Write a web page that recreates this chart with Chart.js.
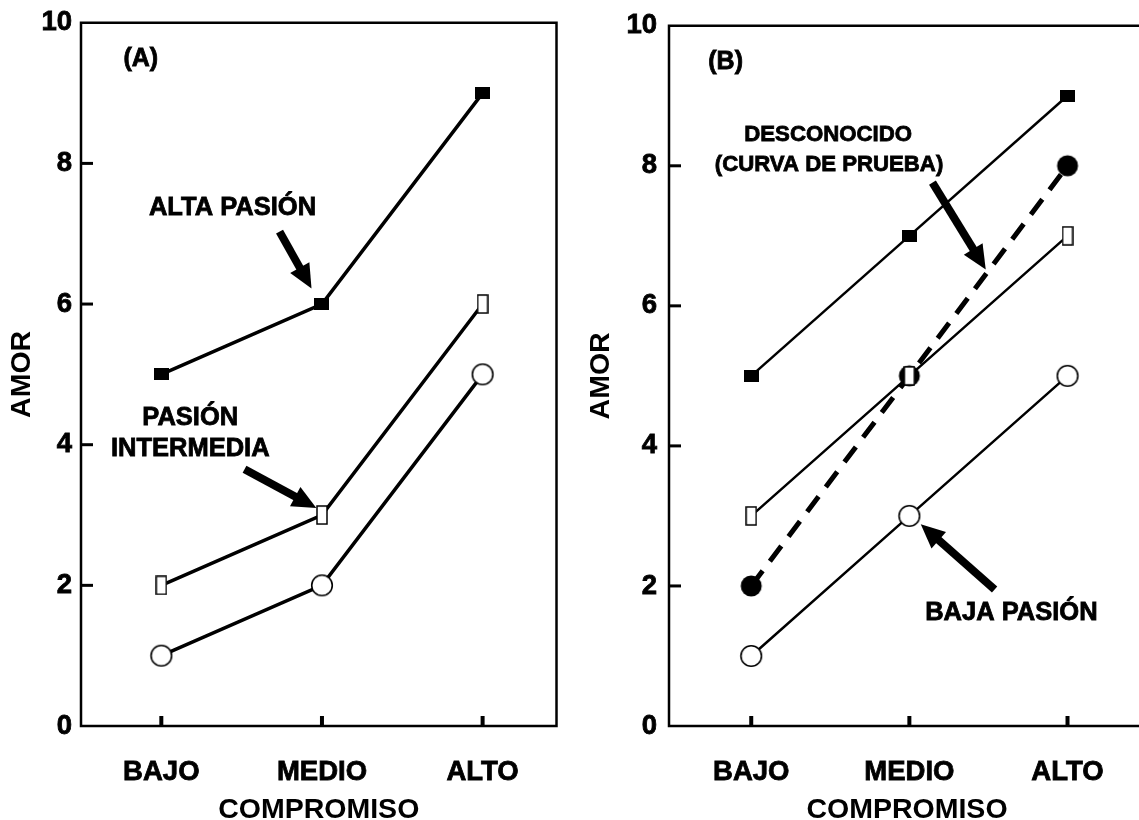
<!DOCTYPE html>
<html>
<head>
<meta charset="utf-8">
<script src="https://cdn.jsdelivr.net/npm/chart.js@4.4.1/dist/chart.umd.min.js"></script>
<style>
  html, body { margin: 0; padding: 0; background: #fff; }
  body { width: 1139px; height: 820px; overflow: hidden; position: relative; }
  canvas { position: absolute; top: 0; }
  #chart-a { left: 0; }
  #chart-b { left: 575px; }
</style>
</head>
<body>
<canvas id="chart-a" width="570" height="820"></canvas>
<canvas id="chart-b" width="585" height="820"></canvas>
<script>
// ═══════════════════════════════════════════
// DATOS
// ═══════════════════════════════════════════
const categorias = ['BAJO', 'MEDIO', 'ALTO'];
const ticksAmor = [0, 2, 4, 6, 8, 10];

// Panel (A)
const altaPasionA = [5, 6, 9];
const intermediaA = [2, 3, 6];
const bajaPasionA = [1, 2, 5];

// Panel (B)
const altaPasionB = [5, 7, 9];
const intermediaB = [3, 5, 7];
const bajaPasionB = [1, 3, 5];
const desconocidoB = [2, 5, 8];

const FUENTE = "'Liberation Sans', Arial, sans-serif";

// ═══════════════════════════════════════════
// MARCADORES (canvas pequeños como pointStyle)
// ═══════════════════════════════════════════
function marcador(tipo) {
  const c = document.createElement('canvas');
  const g = c.getContext('2d');
  if (tipo === 'cuadrado') {
    c.width = 15; c.height = 12;
    g.fillStyle = '#000';
    g.fillRect(0, 0, 15, 12);
  } else if (tipo === 'rect') {
    c.width = 12; c.height = 20;
    g.fillStyle = '#fff';
    g.fillRect(1, 1, 10, 18);
    g.strokeStyle = '#000';
    g.lineWidth = 1.5;
    g.strokeRect(1, 1, 10, 18);
  } else if (tipo === 'circulo') {
    c.width = 24; c.height = 24;
    g.beginPath();
    g.arc(12, 12, 10.3, 0, Math.PI * 2);
    g.fillStyle = '#fff';
    g.fill();
    g.strokeStyle = '#000';
    g.lineWidth = 1.6;
    g.stroke();
  } else {
    c.width = 24; c.height = 24;
    g.beginPath();
    g.arc(12, 12, 10.5, 0, Math.PI * 2);
    g.fillStyle = '#000';
    g.fill();
  }
  return c;
}

const puntos = vals => vals.map((v, i) => ({ x: i, y: v }));

function serie(vals, tipo, ancho, guiones) {
  return {
    data: puntos(vals),
    borderColor: '#000',
    borderWidth: ancho,
    borderDash: guiones || [],
    pointStyle: marcador(tipo),
    pointRadius: 10,
    tension: 0,
    fill: false,
  };
}

// ═══════════════════════════════════════════
// MARCO, TICKS INTERNOS Y ANOTACIONES
// ═══════════════════════════════════════════
function flecha(ctx, x1, y1, x2, y2) {
  const ang = Math.atan2(y2 - y1, x2 - x1);
  const L = Math.hypot(x2 - x1, y2 - y1);
  ctx.save();
  ctx.translate(x1, y1);
  ctx.rotate(ang);
  ctx.fillStyle = '#000';
  ctx.fillRect(0, -4, L - 20, 8);
  ctx.beginPath();
  ctx.moveTo(L, 0);
  ctx.lineTo(L - 24, -11);
  ctx.lineTo(L - 24, 11);
  ctx.closePath();
  ctx.fill();
  ctx.restore();
}

const marco = {
  id: 'marco',
  beforeDatasetsDraw(chart) {
    const { ctx, chartArea: a, scales: { x, y } } = chart;
    ctx.save();
    ctx.strokeStyle = '#000';
    ctx.lineWidth = 2.5;
    ctx.strokeRect(a.left, a.top, a.right - a.left, a.bottom - a.top);
    ctx.lineWidth = 3;
    y.ticks.forEach(t => {
      if (t.value <= 0 || t.value >= 10) return;
      const py = y.getPixelForValue(t.value);
      ctx.beginPath(); ctx.moveTo(a.left, py); ctx.lineTo(a.left + 12, py); ctx.stroke();
    });
    ctx.lineWidth = 4;
    x.ticks.forEach(t => {
      const px = x.getPixelForValue(t.value);
      ctx.beginPath(); ctx.moveTo(px, a.bottom); ctx.lineTo(px, a.bottom - 10); ctx.stroke();
    });
    ctx.restore();
  },
  afterDraw(chart, args, opts) {
    const { ctx, scales: { x, y } } = chart;
    ctx.save();
    ctx.fillStyle = '#000';
    ctx.strokeStyle = '#000';
    ctx.lineWidth = 0.8;
    ctx.textAlign = 'center';
    ctx.textBaseline = 'middle';
    (opts.textos || []).forEach(t => {
      ctx.font = `bold ${t.tam}px ${FUENTE}`;
      const px = x.getPixelForValue(t.x), py = y.getPixelForValue(t.y);
      ctx.fillText(t.texto, px, py);
      ctx.strokeText(t.texto, px, py);
    });
    (opts.flechas || []).forEach(f => {
      flecha(ctx, x.getPixelForValue(f.x1), y.getPixelForValue(f.y1),
                  x.getPixelForValue(f.x2), y.getPixelForValue(f.y2));
    });
    ctx.restore();
  }
};

// ═══════════════════════════════════════════
// CONSTRUCCIÓN DE CADA PANEL
// ═══════════════════════════════════════════
function crearPanel(id, datasets, cfg) {
  const fuenteEje = { family: FUENTE, size: 27.5, weight: 'bold', lineHeight: 1 };
  return new Chart(document.getElementById(id), {
    type: 'line',
    data: { datasets },
    plugins: [marco],
    options: {
      responsive: false,
      animation: false,
      events: [],
      layout: { padding: { top: 20, right: cfg.derecha, bottom: 0, left: 0 } },
      plugins: {
        legend: { display: false },
        tooltip: { enabled: false },
        marco: { textos: cfg.textos, flechas: cfg.flechas },
      },
      scales: {
        x: {
          type: 'linear',
          min: cfg.xmin,
          max: cfg.xmax,
          afterBuildTicks: s => { s.ticks = categorias.map((c, i) => ({ value: i })); },
          afterFit: s => { s.height = 94; },
          grid: { display: false, drawTicks: false },
          border: { display: false },
          ticks: {
            padding: 33,
            color: '#000',
            font: fuenteEje,
            textStrokeColor: '#000',
            textStrokeWidth: 0.8,
            callback: v => categorias[v],
          },
          title: {
            display: true,
            text: 'COMPROMISO',
            color: '#000',
            font: { family: FUENTE, size: 28.5, weight: 'bold', lineHeight: 1 },
            padding: { top: 0, bottom: -4 },
          },
        },
        y: {
          min: 0,
          max: 10,
          afterBuildTicks: s => { s.ticks = ticksAmor.map(v => ({ value: v })); },
          afterFit: s => { s.width = cfg.anchoY; },
          grid: { display: false, drawTicks: false },
          border: { display: false },
          ticks: {
            padding: cfg.padY,
            color: '#000',
            font: fuenteEje,
            textStrokeColor: '#000',
            textStrokeWidth: 0.8,
          },
          title: {
            display: true,
            text: 'AMOR',
            color: '#000',
            font: { family: FUENTE, size: 28.5, weight: 'bold', lineHeight: 1 },
            padding: { top: cfg.padTitulo, bottom: 0 },
          },
        },
      },
    },
  });
}

crearPanel('chart-a', [
  serie(altaPasionA, 'cuadrado', 3.5),
  serie(intermediaA, 'rect', 3.5),
  serie(bajaPasionA, 'circulo', 3.5),
], {
  xmin: -0.5, xmax: 2.46, derecha: 12, anchoY: 81, padY: 9, padTitulo: 8,
  textos: [
    { texto: '(A)', x: -0.128, y: 9.49, tam: 25 },
    { texto: 'ALTA PASIÓN', x: 0.443, y: 7.37, tam: 25.5 },
    { texto: 'PASIÓN', x: 0.18, y: 4.38, tam: 25.5 },
    { texto: 'INTERMEDIA', x: 0.18, y: 3.94, tam: 25.5 },
  ],
  flechas: [
    { x1: 0.736, y1: 7.03, x2: 0.935, y2: 6.22 },
    { x1: 0.518, y1: 3.65, x2: 0.965, y2: 3.10 },
  ],
});

crearPanel('chart-b', [
  serie(altaPasionB, 'cuadrado', 2.5),
  serie(intermediaB, 'rect', 2.5),
  serie(bajaPasionB, 'circulo', 2.5),
  serie(desconocidoB, 'punto', 5, [19, 12]),
], {
  xmin: -0.52, xmax: 2.49, derecha: 7, anchoY: 94, padY: 12, padTitulo: 12,
  textos: [
    { texto: '(B)', x: -0.162, y: 9.48, tam: 25 },
    { texto: 'DESCONOCIDO', x: 0.486, y: 8.44, tam: 22.2 },
    { texto: '(CURVA DE PRUEBA)', x: 0.492, y: 8.02, tam: 22.2 },
    { texto: 'BAJA PASIÓN', x: 1.645, y: 1.61, tam: 25.5 },
  ],
  flechas: [
    { x1: 1.146, y1: 7.76, x2: 1.483, y2: 6.52 },
    { x1: 1.539, y1: 1.95, x2: 1.072, y2: 2.88 },
  ],
});
</script>
</body>
</html>
